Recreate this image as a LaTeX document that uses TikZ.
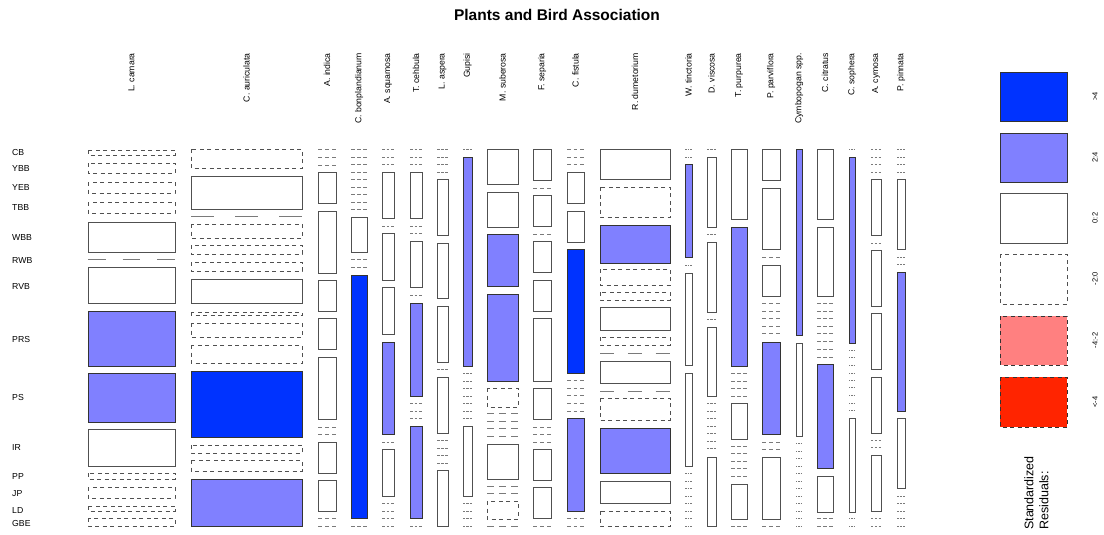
\documentclass[tikz,border=0pt]{standalone}
\usepackage{fontspec}
\setmainfont{Liberation Sans}
\definecolor{dblue}{RGB}{0,51,255}
\definecolor{lblue}{RGB}{128,128,255}
\definecolor{lred}{RGB}{255,128,128}
\definecolor{dred}{RGB}{255,36,0}
\definecolor{bord}{HTML}{505050}
\definecolor{bordd}{HTML}{333333}
\definecolor{bordz}{HTML}{7A7A7A}
\tikzset{
  cellbase/.style={line width=0.95pt},
  cellp/.style={cellbase, draw=bord, fill=white},
  celln/.style={cellbase, draw=bord, dash pattern=on 4pt off 3.5pt},
  celllb/.style={cellbase, draw=bordd, fill=lblue},
  celldb/.style={cellbase, draw=bordd, fill=dblue},
  cellz/.style={line width=1pt, draw=bordz},
  collab/.style={rotate=90, anchor=east, inner sep=0pt, font=\fontsize{8.7}{10}\selectfont},
  rowlab/.style={anchor=west, inner sep=0pt, font=\fontsize{8.7}{10}\selectfont},
  leglab/.style={rotate=90, anchor=center, inner sep=0pt, font=\fontsize{7.5}{9}\selectfont},
  legbox/.style={line width=0.95pt}
}
\newcommand\mcol[2]{\def\mxa{#1}\def\mxb{#2}%
  \pgfmathsetmacro\zg{max(0.2*(#2-#1)-0.6,0.9)}%
  \pgfmathsetmacro\zd{((#2-#1)-2*\zg)/3}}
\newcommand\mcP[2]{\draw[cellp] (\mxa,#1) rectangle (\mxb,#2);}
\newcommand\mcN[2]{\draw[celln] (\mxa,#1) rectangle (\mxb,#2);}
\newcommand\mcL[2]{\draw[celllb] (\mxa,#1) rectangle (\mxb,#2);}
\newcommand\mcD[2]{\draw[celldb] (\mxa,#1) rectangle (\mxb,#2);}
\newcommand\mcZ[1]{\foreach \zy in {#1}{\draw[cellz, dash pattern=on \zd pt off \zg pt] (\mxa,\zy) -- (\mxb,\zy);}}
\begin{document}
\begin{tikzpicture}[x=1pt,y=-1pt]
\fill[white] (0,0) rectangle (1104,535);
\useasboundingbox (0,0) rectangle (1104,535);
% title
\node[font=\bfseries\fontsize{15.5}{18}\selectfont, inner sep=0pt] (title) at (557,15) {Plants and Bird Association};
% column labels
\node[collab] (c1) at (131.5,53) {L. camara};
\node[collab] (c2) at (246.5,53) {C. auriculata};
\node[collab] (c3) at (327,53) {A. indica};
\node[collab] (c4) at (359,53) {C. bonplandianum};
\node[collab] (c5) at (388,53) {A. squamosa};
\node[collab] (c6) at (416,53) {T. cehbula};
\node[collab] (c7) at (442.5,53) {L. aspera};
\node[collab] (c8) at (467.5,53) {Gupisi};
\node[collab] (c9) at (502.5,53) {M. suberosa};
\node[collab] (c10) at (542,53) {F. separia};
\node[collab] (c11) at (575.5,53) {C. fistula};
\node[collab] (c12) at (635,53) {R. dumetorium};
\node[collab] (c13) at (688.5,53) {W. tinctoria};
\node[collab] (c14) at (711.5,53) {D. viscosa};
\node[collab] (c15) at (739,53) {T. purpurea};
\node[collab] (c16) at (771,53) {P. parviflora};
\node[collab] (c17) at (799,53) {Cymbopogan spp.};
\node[collab] (c18) at (825,53) {C. citratus};
\node[collab] (c19) at (852,53) {C. sophera};
\node[collab] (c20) at (876,53) {A. cymosa};
\node[collab] (c21) at (901,53) {P. pinnata};
% row labels
\node[rowlab] (rCB) at (12,153) {CB};
\node[rowlab] (rYBB) at (12,169) {YBB};
\node[rowlab] (rYEB) at (12,188) {YEB};
\node[rowlab] (rTBB) at (12,208) {TBB};
\node[rowlab] (rWBB) at (12,238) {WBB};
\node[rowlab] (rRWB) at (12,261) {RWB};
\node[rowlab] (rRVB) at (12,287) {RVB};
\node[rowlab] (rPRS) at (12,340) {PRS};
\node[rowlab] (rPS) at (12,398) {PS};
\node[rowlab] (rIR) at (12,448) {IR};
\node[rowlab] (rPP) at (12,477) {PP};
\node[rowlab] (rJP) at (12,494) {JP};
\node[rowlab] (rLD) at (12,511) {LD};
\node[rowlab] (rGBE) at (12,524) {GBE};
% 1 L. camara
\mcol{88}{175}
\mcN{150}{155}\mcN{163}{173}\mcN{182}{193}\mcN{202}{213}\mcP{222}{252}\mcZ{259}
\mcP{267}{303}\mcL{311}{366}\mcL{373}{422}\mcP{429}{466}\mcN{473}{479}\mcN{487}{498}
\mcN{506}{511}\mcN{518}{526}
% 2 C. auriculata
\mcol{191}{302}
\mcN{149}{168}\mcP{176}{209}\mcZ{216}\mcN{224}{238}\mcN{245}{254}\mcN{262}{271}
\mcP{279}{303}\mcN{312}{315}\mcN{323}{337}\mcN{345}{363}\mcD{371}{437}\mcN{445}{453}
\mcN{460}{471}\mcL{479}{526}
% 3 A. indica
\mcol{318}{336}
\mcZ{149,157,165}\mcP{172}{203}\mcP{211}{273}\mcP{280}{311}\mcP{318}{349}\mcP{357}{419}
\mcZ{427,434}\mcP{442}{473}\mcP{480}{511}\mcZ{518,526}
% 4 C. bonplandianum
\mcol{351}{367}
\mcZ{149,157,164,172,179,187,194,202,209}\mcP{217}{252}\mcZ{259,267}\mcD{275}{518}\mcZ{526}
% 5 A. squamosa
\mcol{382}{394}
\mcZ{149,157,164}\mcP{172}{218}\mcZ{226}\mcP{233}{280}\mcP{287}{334}\mcL{342}{434}
\mcZ{442}\mcP{449}{496}\mcZ{503,511,518,526}
% 6 T. cehbula
\mcol{410}{422}
\mcZ{149,157,164}\mcP{172}{218}\mcZ{226,233}\mcP{241}{287}\mcZ{295}\mcL{303}{396}
\mcZ{403,411,418}\mcL{426}{518}\mcZ{526}
% 7 L. aspera
\mcol{437}{448}
\mcZ{149,157,164,172}\mcP{179}{235}\mcP{243}{298}\mcP{306}{362}\mcZ{369}\mcP{377}{433}
\mcZ{440,448,455,463}\mcP{470}{526}
% 8 Gupisi
\mcol{463}{472}
\mcZ{149}\mcL{157}{366}\mcZ{373,381,388,396,403,411,418}\mcP{426}{496}\mcZ{503,511,518,526}
% 9 M. suberosa
\mcol{487}{518}
\mcP{149}{184}\mcP{192}{227}\mcL{234}{286}\mcL{294}{381}\mcN{388}{407}\mcZ{413,421,428,436}
\mcP{444}{479}\mcZ{486,493}\mcN{501}{519}\mcZ{526}
% 10 F. separia
\mcol{533}{551}
\mcP{149}{180}\mcZ{188}\mcP{195}{226}\mcZ{234}\mcP{241}{272}\mcP{280}{311}\mcP{318}{381}
\mcP{388}{419}\mcZ{427,434,442}\mcP{449}{480}\mcP{487}{518}\mcZ{526}
% 11 C. fistula
\mcol{567}{584}
\mcZ{149,157,164}\mcP{172}{203}\mcP{211}{242}\mcD{249}{373}\mcZ{380,388,395,403,411}
\mcL{418}{511}\mcZ{518,526}
% 12 R. dumetorium
\mcol{600}{670}
\mcP{149}{179}\mcN{187}{217}\mcL{225}{263}\mcN{269}{285}\mcN{292}{300}\mcP{307}{330}
\mcN{337}{345}\mcZ{353}\mcP{361}{383}\mcZ{391}\mcN{398}{420}\mcL{428}{473}\mcP{481}{503}
\mcN{511}{526}
% 13 W. tinctoria
\mcol{685}{692}
\mcZ{149,157}\mcL{164}{257}\mcZ{265}\mcP{273}{365}\mcP{373}{466}
\mcZ{473,481,488,496,503,511,518,526}
% 14 D. viscosa
\mcol{707}{716}
\mcZ{149}\mcP{157}{227}\mcZ{234}\mcP{242}{312}\mcZ{319}\mcP{327}{396}
\mcZ{403,411,418,426,433,441,448}\mcP{457}{526}
% 15 T. purpurea
\mcol{731}{747}
\mcP{149}{219}\mcL{227}{366}\mcZ{373,381,388,396}\mcP{403}{439}\mcZ{446,453,461,468,476}
\mcP{484}{519}\mcZ{526}
% 16 P. parviflora
\mcol{762}{780}
\mcP{149}{180}\mcP{188}{249}\mcZ{257}\mcP{265}{296}\mcZ{303,311,318,326,333}\mcL{342}{434}
\mcZ{442,449}\mcP{457}{519}\mcZ{526}
% 17 Cymbopogan spp.
\mcol{796}{802}
\mcL{149}{335}\mcP{343}{436}\mcZ{443,451,458,466,473,481,488,496,503,511,518,526}
% 18 C. citratus
\mcol{817}{833}
\mcP{149}{219}\mcP{227}{296}\mcZ{303,311,318,326,333,341,349,357}\mcL{364}{468}
\mcP{476}{512}\mcZ{518,526}
% 19 C. sophera
\mcol{849}{855}
\mcZ{149}\mcL{157}{343}\mcZ{350,357,365,373,380,387,395,403,410}\mcP{418}{512}\mcZ{518,526}
% 20 A. cymosa
\mcol{871}{881}
\mcZ{149,157,164,172}\mcP{179}{235}\mcZ{243}\mcP{250}{306}\mcP{313}{369}\mcP{377}{433}
\mcZ{440,447}\mcP{455}{511}\mcZ{518,526}
% 21 P. pinnata
\mcol{897}{905}
\mcZ{149,157,164,172}\mcP{179}{249}\mcZ{257,264}\mcL{272}{411}\mcP{418}{488}
\mcZ{496,503,511,518,526}
% legend
\draw[legbox, draw=bordd, fill=dblue] (1000,72) rectangle (1067,121);
\draw[legbox, draw=bordd, fill=lblue] (1000,133) rectangle (1067,182);
\draw[legbox, draw=bord, fill=white] (1000,193) rectangle (1067,243);
\draw[legbox, draw=bord, fill=white, dash pattern=on 4pt off 3.5pt] (1000,254) rectangle (1067,304);
\draw[legbox, draw=bordd, fill=lred, dash pattern=on 4pt off 3.5pt] (1000,316) rectangle (1067,365);
\draw[legbox, draw=bordd, fill=dred, dash pattern=on 4pt off 3.5pt] (1000,377) rectangle (1067,427);
\node[leglab] (l1) at (1095,96.5) {>4};
\node[leglab] (l2) at (1095,157.5) {2:4};
\node[leglab] (l3) at (1095,218) {0:2};
\node[leglab] (l4) at (1095,279) {-2:0};
\node[leglab] (l5) at (1095,340.5) {-4:-2};
\node[leglab] (l6) at (1095,402) {<-4};
\node[rotate=90, anchor=north west, inner sep=0pt, align=left, font=\fontsize{12.5}{15}\selectfont] (legtitle) at (1024,530) {Standardized\\Residuals:};
\end{tikzpicture}
\end{document}
